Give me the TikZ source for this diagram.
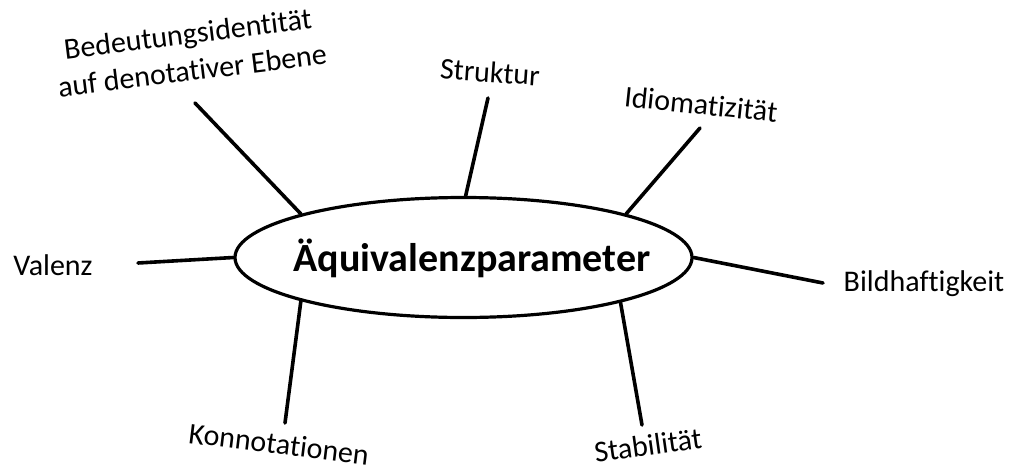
\documentclass[tikz,border=0pt]{standalone}
\usepackage{fontspec}
\setmainfont{Carlito}[Ligatures={NoCommon}, Contextuals={NoAlternate}]
\usetikzlibrary{shapes.geometric}
\tikzset{
  lbl/.style={inner sep=0pt, font=\fontsize{30}{37}\selectfont, align=center},
  conn/.style={line width=3.6pt, line cap=round},
  ellbox/.style={draw, ellipse, line width=3.2pt, minimum width=457pt, minimum height=120pt, inner sep=0pt}
}
\begin{document}
\begin{tikzpicture}[x=1pt,y=-1pt]
\useasboundingbox (0,0) rectangle (1015,471);
\node[ellbox] (ell) at (463.5,257.5) {};
\node[inner sep=0pt, font=\fontsize{40}{48}\selectfont\bfseries] (main) at (472,258) {Äquivalenzparameter};

\node[lbl, rotate=7] (bed) at (190,52) {Bedeutungsidentität\\auf denotativer Ebene};
\node[lbl, rotate=-4] (str) at (490,72) {Struktur};
\node[lbl, rotate=-6] (idi) at (701,104) {Idiomatizität};
\node[lbl] (val) at (53,265) {Valenz};
\node[lbl] (bil) at (924,284) {Bildhaftigkeit};
\node[lbl, rotate=-7] (kon) at (279,444) {Konnotationen};
\node[lbl, rotate=8] (sta) at (648,445) {Stabilität};

\coordinate (cbed) at (195,103);
\coordinate (cstr) at (488,98);
\coordinate (cidi) at (700,128);
\coordinate (cval) at (138,263);
\coordinate (cbil) at (823,283);
\coordinate (ckon) at (285,423);
\coordinate (csta) at (642,425);

\draw[conn] (cbed) -- (ell.165.3);
\draw[conn] (cstr) -- (ell.88.6);
\draw[conn] (cidi) -- (ell.15.4);
\draw[conn] (cval) -- (ell.180);
\draw[conn] (cbil) -- (ell.0);
\draw[conn] (ckon) -- (ell.195.7);
\draw[conn] (csta) -- (ell.344.3);
\end{tikzpicture}
\end{document}
